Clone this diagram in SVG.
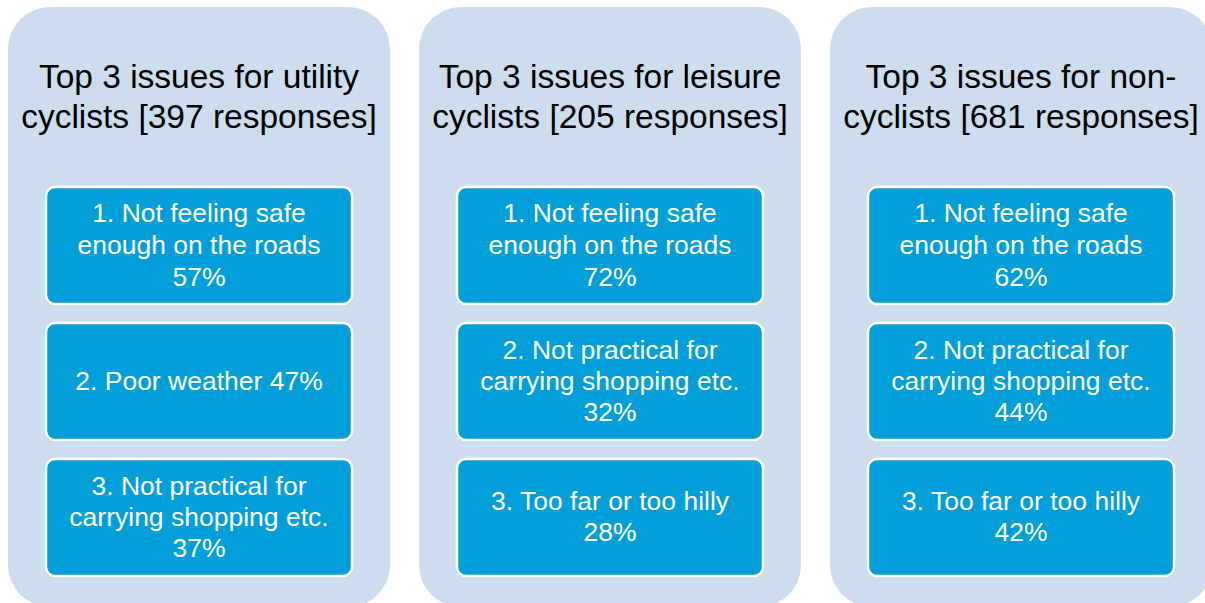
<svg xmlns="http://www.w3.org/2000/svg" width="1205" height="603" viewBox="0 0 1205 603">
  <style>
    .panel { fill: #CBDDEF; }
    .box { fill: #009FDA; stroke: #FFFFFF; stroke-width: 2.5; }
    .title { font-family: "Liberation Sans", Arial, sans-serif; font-size: 33.5px; fill: #000000; text-anchor: middle; }
    .item { font-family: "Liberation Sans", Arial, sans-serif; font-size: 26.5px; fill: #FFFFFF; text-anchor: middle; }
  </style>
  <rect width="1205" height="603" fill="#FFFFFF"/>

  <!-- Utility cyclists -->
  <g id="utility">
    <rect class="panel" x="8" y="7" width="382" height="600" rx="42" ry="42"/>
    <text class="title" x="199" y="88">Top 3 issues for utility</text>
    <text class="title" x="199" y="128">cyclists [397 responses]</text>
    <g id="utility-1">
      <rect class="box" x="46" y="187" width="306" height="117" rx="9" ry="9"/>
      <text class="item" x="199" y="222">1. Not feeling safe</text>
      <text class="item" x="199" y="254">enough on the roads</text>
      <text class="item" x="199" y="286">57%</text>
    </g>
    <g id="utility-2">
      <rect class="box" x="46" y="323" width="306" height="117" rx="9" ry="9"/>
      <text class="item" x="199" y="390">2. Poor weather 47%</text>
    </g>
    <g id="utility-3">
      <rect class="box" x="46" y="459" width="306" height="117" rx="9" ry="9"/>
      <text class="item" x="199" y="495">3. Not practical for</text>
      <text class="item" x="199" y="526">carrying shopping etc.</text>
      <text class="item" x="199" y="557">37%</text>
    </g>
  </g>

  <!-- Leisure cyclists -->
  <g id="leisure">
    <rect class="panel" x="419" y="7" width="382" height="600" rx="42" ry="42"/>
    <text class="title" x="610" y="88">Top 3 issues for leisure</text>
    <text class="title" x="610" y="128">cyclists [205 responses]</text>
    <g id="leisure-1">
      <rect class="box" x="457" y="187" width="306" height="117" rx="9" ry="9"/>
      <text class="item" x="610" y="222">1. Not feeling safe</text>
      <text class="item" x="610" y="254">enough on the roads</text>
      <text class="item" x="610" y="286">72%</text>
    </g>
    <g id="leisure-2">
      <rect class="box" x="457" y="323" width="306" height="117" rx="9" ry="9"/>
      <text class="item" x="610" y="359">2. Not practical for</text>
      <text class="item" x="610" y="390">carrying shopping etc.</text>
      <text class="item" x="610" y="421">32%</text>
    </g>
    <g id="leisure-3">
      <rect class="box" x="457" y="459" width="306" height="117" rx="9" ry="9"/>
      <text class="item" x="610" y="510">3. Too far or too hilly</text>
      <text class="item" x="610" y="541">28%</text>
    </g>
  </g>

  <!-- Non-cyclists -->
  <g id="non-cyclists">
    <rect class="panel" x="830" y="7" width="382" height="600" rx="42" ry="42"/>
    <text class="title" x="1021" y="88">Top 3 issues for non-</text>
    <text class="title" x="1021" y="128">cyclists [681 responses]</text>
    <g id="non-1">
      <rect class="box" x="868" y="187" width="306" height="117" rx="9" ry="9"/>
      <text class="item" x="1021" y="222">1. Not feeling safe</text>
      <text class="item" x="1021" y="254">enough on the roads</text>
      <text class="item" x="1021" y="286">62%</text>
    </g>
    <g id="non-2">
      <rect class="box" x="868" y="323" width="306" height="117" rx="9" ry="9"/>
      <text class="item" x="1021" y="359">2. Not practical for</text>
      <text class="item" x="1021" y="390">carrying shopping etc.</text>
      <text class="item" x="1021" y="421">44%</text>
    </g>
    <g id="non-3">
      <rect class="box" x="868" y="459" width="306" height="117" rx="9" ry="9"/>
      <text class="item" x="1021" y="510">3. Too far or too hilly</text>
      <text class="item" x="1021" y="541">42%</text>
    </g>
  </g>

  <!-- no connectors in this figure -->
  <g id="connectors"/>
</svg>
